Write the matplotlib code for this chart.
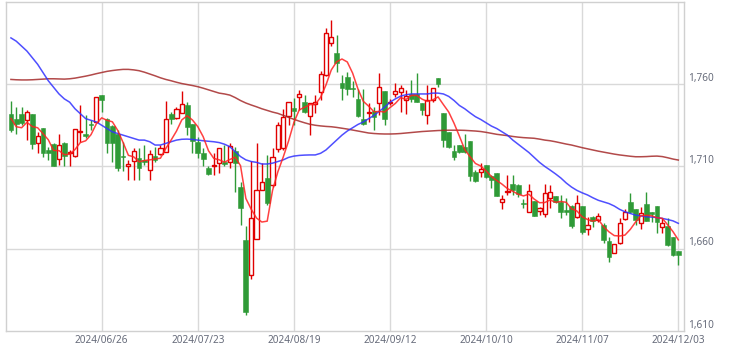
import matplotlib
matplotlib.use("Agg")
import matplotlib.pyplot as plt
import numpy as np
import pandas as pd

# ---- data ----
holidays = ["2024-07-15", "2024-08-12", "2024-09-16", "2024-09-23", "2024-10-14", "2024-11-04"]
dates = pd.bdate_range("2024-06-03", "2024-12-03", freq="C", holidays=holidays)

tick_labels = ["2024/06/26", "2024/07/23", "2024/08/19", "2024/09/12",
               "2024/10/10", "2024/11/07", "2024/12/03"]
price_ticks = [1610, 1660, 1710, 1760]

opens = [1742, 1739, 1742, 1738, 1742, 1724.5, 1733.5, 1720, 1723.5, 1714.5,
         1724.5, 1718.3, 1716.5, 1731, 1729.5, 1736, 1737, 1753.5, 1739, 1734.5,
         1730, 1716.5, 1710.3, 1713.3, 1715, 1714, 1708, 1716.3, 1717.5, 1719,
         1742, 1739.2, 1742.6, 1747.2, 1735.7, 1725, 1718.3, 1709, 1710.2, 1712,
         1713, 1713, 1719.4, 1697.7, 1665.4, 1644, 1665.8, 1696, 1702.8, 1698.7,
         1720.6, 1721, 1740.6, 1745.2, 1752, 1749, 1740.6, 1747.7, 1755.3, 1765.5,
         1784.7, 1779, 1760.8, 1764, 1757.8, 1751, 1738.6, 1742.6, 1743.6, 1748.3,
         1755.7, 1748.8, 1754, 1755, 1750.3, 1753.7, 1753.7, 1748.7, 1741.2, 1750.3,
         1763.4, 1742.2, 1731, 1719.5, 1723, 1722, 1725.6, 1706.4, 1706.4, 1710.8,
         1704.2, 1705.8, 1688.6, 1694.6, 1699.3, 1698.7, 1687.6, 1682.6, 1689, 1683.2,
         1680.9, 1690.6, 1692.1, 1688.6, 1683.6, 1686, 1679.1, 1686, 1671.8, 1679.1,
         1677.5, 1674.5, 1664.8, 1657.7, 1663.4, 1677.9, 1688.2, 1684, 1675.9, 1687.2,
         1682.2, 1686, 1673, 1673.9, 1667, 1658.9]
highs = [1750, 1746, 1746, 1744, 1742, 1731, 1733.5, 1722, 1724, 1730,
         1725, 1720, 1733, 1747.5, 1741, 1738, 1752, 1753.5, 1739.5, 1735,
         1732, 1725, 1714, 1721.5, 1721, 1723, 1720, 1722, 1723, 1749.5,
         1743, 1746, 1755.5, 1749.3, 1735.7, 1728, 1721, 1710.3, 1718, 1721.4,
         1723, 1724, 1722, 1700.7, 1674, 1713.3, 1724.4, 1712, 1717, 1721,
         1737, 1744.8, 1749.3, 1751.3, 1756.3, 1753.3, 1748.3, 1753.3, 1768, 1793.8,
         1798.8, 1789.7, 1765.5, 1767.5, 1762, 1756.8, 1756.8, 1748.7, 1746.2, 1767,
         1755.7, 1750.7, 1760.8, 1759.4, 1756.4, 1762.4, 1766.5, 1748.7, 1759.4, 1757.4,
         1763.4, 1742.2, 1731, 1723, 1723, 1729.5, 1725.6, 1707.8, 1712.3, 1710.8,
         1704.8, 1705.8, 1692.7, 1704.8, 1704.8, 1699.1, 1690.2, 1699.1, 1689, 1685.6,
         1699.1, 1698.7, 1692.1, 1692.7, 1690.6, 1686.6, 1692.7, 1686, 1679.5, 1680,
         1681.5, 1675.5, 1667.4, 1663, 1678.5, 1684, 1693.7, 1684.5, 1685.6, 1694.7,
         1682.6, 1686, 1678.5, 1678.5, 1667, 1658.9]
lows = [1731, 1730, 1735, 1726, 1720.5, 1718, 1716, 1714, 1710, 1711,
        1710, 1710, 1716, 1725, 1727, 1732, 1737, 1743, 1718, 1713,
        1707, 1707, 1701.5, 1701.5, 1701.5, 1711, 1701.5, 1713, 1717, 1718.5,
        1736, 1739, 1742.5, 1729, 1718, 1715, 1710, 1705, 1705, 1705.8,
        1710, 1709, 1694.7, 1674.5, 1620, 1641.7, 1665.8, 1696, 1686.6, 1697.7,
        1719, 1720, 1735, 1735, 1744.2, 1742.2, 1729, 1742.2, 1750.3, 1764.8,
        1783.2, 1767.5, 1750.3, 1753.3, 1752.3, 1740.2, 1735, 1737.2, 1732, 1741.2,
        1735, 1747, 1752, 1743.2, 1741.8, 1749.3, 1749.3, 1741.2, 1736, 1749.3,
        1758.4, 1722, 1721, 1714, 1718, 1718, 1701.2, 1700.3, 1703.8, 1702.8,
        1696.7, 1692, 1684, 1692.7, 1692.7, 1691.7, 1684.6, 1682.6, 1680, 1680.5,
        1679.5, 1684.6, 1687.6, 1678.9, 1680.5, 1672.5, 1678.5, 1669, 1668.4, 1673.5,
        1676.5, 1663.4, 1652.2, 1657.3, 1663, 1677.5, 1682, 1674.5, 1671.8, 1677,
        1676.5, 1669.8, 1669.4, 1662, 1655.7, 1650.2]
closes = [1732, 1736, 1736.5, 1743, 1723.5, 1728.5, 1718, 1718, 1710.5, 1723,
          1716.5, 1719, 1732.5, 1731.5, 1728.5, 1735, 1752, 1750.5, 1724, 1724,
          1709, 1715.5, 1711.3, 1719.3, 1709, 1713, 1717.5, 1714, 1721.5, 1738.5,
          1738.5, 1744.6, 1748.2, 1734, 1725.6, 1718.3, 1714.5, 1705.4, 1710.6, 1721.4,
          1711.2, 1722.6, 1712.3, 1685, 1622, 1678.5, 1695.7, 1700.3, 1687.6, 1715.5,
          1735, 1740.2, 1749, 1743.8, 1753.7, 1742.8, 1748.3, 1749.3, 1765.8, 1790.7,
          1788.7, 1773, 1757.8, 1756.8, 1756.8, 1740.6, 1735.7, 1743, 1739.8, 1758,
          1738.6, 1749.3, 1755.5, 1757.4, 1752.7, 1750.7, 1749.3, 1744.2, 1750.3, 1757.4,
          1759.8, 1726, 1721.6, 1716, 1718.5, 1719, 1704.4, 1701.2, 1708.2, 1703.8,
          1701.8, 1692.3, 1690, 1694.9, 1695.7, 1693, 1687, 1695.3, 1680.1, 1684.6,
          1693.7, 1694.7, 1688.2, 1682.6, 1682.2, 1674, 1688, 1670.4, 1674.5, 1677.1,
          1679.9, 1665.4, 1654.9, 1663, 1675.9, 1682.6, 1682.6, 1677.5, 1682, 1677.1,
          1681.2, 1676.5, 1675.9, 1662.4, 1656.3, 1656.3]
prior_closes = [1761, 1739.5, 1726.5, 1736.5]  # 4 sessions before the window (for 5-day MA)

ma25 = [1788, 1786, 1783, 1780, 1776, 1772, 1767, 1762, 1758, 1754,
        1751, 1749, 1745, 1742, 1739, 1738, 1737, 1735, 1733, 1731,
        1730, 1729, 1728, 1727, 1726, 1726, 1725, 1723, 1723, 1724,
        1725, 1726, 1726.5, 1726.6, 1726.4, 1726, 1725.6, 1725.3, 1725, 1724.5,
        1723.5, 1722, 1719, 1716, 1714, 1713, 1712.5, 1711.5, 1711.5, 1712,
        1713, 1714, 1715.5, 1716.3, 1716.7, 1716.9, 1717, 1717, 1718, 1720,
        1723, 1726, 1729, 1731.5, 1733.5, 1735.5, 1737, 1739, 1741, 1743.5,
        1746, 1749, 1751, 1752.7, 1753.5, 1754, 1754, 1754, 1754, 1754.5,
        1754.5, 1754, 1752.5, 1750, 1747, 1745, 1742.5, 1740.2, 1738.5, 1736.5,
        1734.5, 1733, 1731, 1729, 1726, 1723.5, 1721, 1718.5, 1715.5, 1712.5,
        1710, 1707.8, 1705.5, 1703, 1700, 1697.5, 1695.5, 1694, 1692.7, 1691,
        1689.5, 1688.5, 1687.5, 1686, 1684, 1682.5, 1681.5, 1680.5, 1680, 1679.5,
        1679.3, 1679, 1678.5, 1677.8, 1677, 1675.5]
ma75 = [1762.8, 1762.6, 1762.5, 1762.5, 1762.6, 1762.8, 1763, 1763.2, 1763.2, 1763.1,
        1763, 1763.2, 1763.6, 1764.2, 1764.8, 1765.5, 1766.3, 1767, 1767.7, 1768.2,
        1768.6, 1768.9, 1768.9, 1768.6, 1768.1, 1767.2, 1766.1, 1765, 1763.8, 1762.8,
        1762, 1761.1, 1760.3, 1759.7, 1759.1, 1758.4, 1757.5, 1756.5, 1755.5, 1754.5,
        1754, 1753.3, 1751.8, 1750, 1748.5, 1747.3, 1746.2, 1745, 1744, 1743,
        1742.2, 1741, 1739.8, 1738.6, 1737.5, 1736.5, 1735.6, 1735, 1734.6, 1734.3,
        1734.1, 1733.7, 1733.2, 1732.7, 1732.1, 1731.5, 1730.9, 1730.3, 1730, 1729.8,
        1729.7, 1729.7, 1729.8, 1730, 1730.3, 1730.6, 1730.9, 1731.2, 1731.4, 1731.6,
        1731.8, 1731.9, 1732, 1732, 1732, 1731.9, 1731.7, 1731.5, 1731.2, 1730.7,
        1730.1, 1729.5, 1729.1, 1728.7, 1728.2, 1727.8, 1727.5, 1727.3, 1727.1, 1726.6,
        1726, 1725.6, 1725, 1724.3, 1723.6, 1723, 1722.2, 1721.4, 1720.7, 1720,
        1719.3, 1718.7, 1718.1, 1717.5, 1717, 1716.6, 1716.2, 1715.9, 1715.9, 1716,
        1716.2, 1716.3, 1716, 1715.3, 1714.5, 1713.9]

# ---- derived ----
o = np.array(opens); h = np.array(highs); l = np.array(lows); c = np.array(closes)
x = np.arange(len(c))
ma5 = pd.Series(prior_closes + closes).rolling(5).mean().to_numpy()[len(prior_closes):]
date_str = [d.strftime("%Y/%m/%d") for d in dates]
tick_pos = [date_str.index(t) for t in tick_labels]

RED = "#e00000"
GREEN = "#2f9a37"
GRID = "#d9d9d9"
TXT = "#666b7a"
plt.rcParams["font.family"] = ["Noto Sans", "DejaVu Sans"]

fig = plt.figure(figsize=(7.30, 3.58), dpi=100)
ax = fig.add_axes([5.7 / 730, 1 - 331.3 / 358, (684.3 - 5.7) / 730, (331.3 - 2.3) / 358])

up = c >= o
dn = ~up
# wicks
ax.vlines(x[up], l[up], h[up], color=RED, lw=1.0, zorder=2)
ax.vlines(x[dn], l[dn], h[dn], color=GREEN, lw=1.0, zorder=2)
# bodies
w = 0.78
ax.bar(x[up], np.maximum(c[up] - o[up], 0.3), bottom=o[up], width=w,
       facecolor="white", edgecolor=RED, linewidth=1.0, zorder=3)
ax.bar(x[dn], np.maximum(o[dn] - c[dn], 0.5), bottom=c[dn], width=0.9,
       facecolor=GREEN, edgecolor=GREEN, linewidth=0.4, zorder=3)

# moving averages
ax.plot(x, ma75, color="#a52a2a", lw=1.1, alpha=0.85, zorder=4)
ax.plot(x, ma25, color="#3030ff", lw=1.1, alpha=0.85, zorder=4)
ax.plot(x, ma5, color="#ff2020", lw=1.1, alpha=0.85, zorder=5)

ax.set_xlim(-0.98, 126.12)
ax.set_ylim(1610, 1809.6)

# grid
for p in tick_pos:
    ax.axvline(p, color=GRID, lw=1.0, zorder=0)
for v in price_ticks[1:]:
    ax.axhline(v, color=GRID, lw=1.0, zorder=0)

for s in ax.spines.values():
    s.set_color("#d0d0d0")
    s.set_linewidth(1.0)

ax.set_xticks(tick_pos)
ax.set_xticklabels(tick_labels, fontsize=7.2, color=TXT)
ax.tick_params(axis="x", length=0, pad=3)
ax.set_yticks([])

for v in price_ticks:
    ax.annotate(f"{v:,}", xy=(1.0, v), xycoords=("axes fraction", "data"),
                xytext=(4, 6), textcoords="offset pixels",
                ha="left", va="center", fontsize=7.2, color=TXT,
                annotation_clip=False)

fig.savefig("out.png", dpi=100, facecolor="white")
